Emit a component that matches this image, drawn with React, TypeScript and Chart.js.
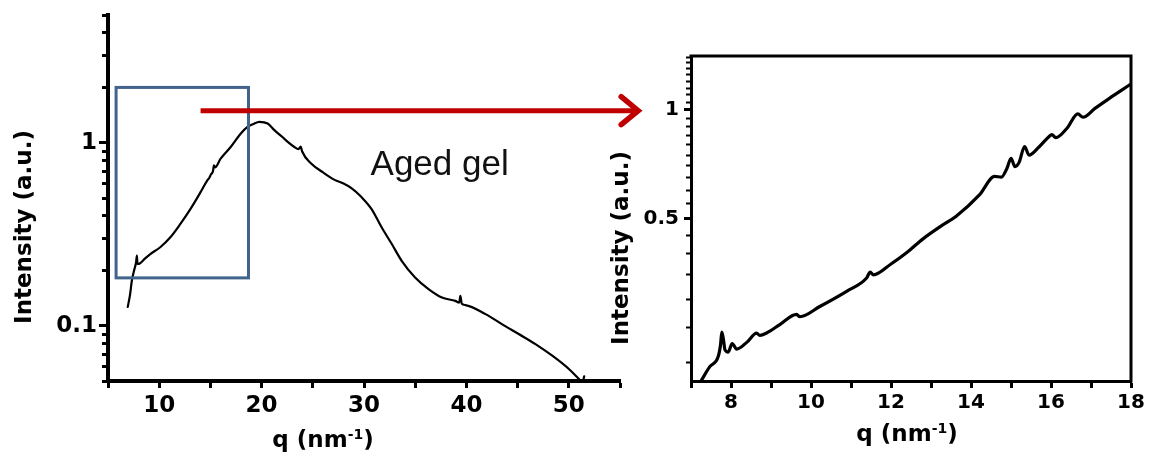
import React, { useEffect, useRef } from 'react';
import { Chart, registerables } from 'chart.js';

Chart.register(...registerables);

const W = 1149;
const H = 456;

// ---------- Data: main (left) panel ----------
const leftQ = [
  6.93, 7.16, 7.33, 7.59, 7.74, 7.82, 7.88, 8.14, 8.6, 9.13, 10.1, 11.09, 12.07, 13.06,
  14.04, 14.7, 14.9, 15.05, 15.25, 15.35, 15.45, 16.0, 16.98, 17.97, 18.62, 19.2, 19.77,
  20.59, 21.25, 22.0, 22.55, 23.2, 23.6, 23.82, 23.95, 24.84, 26.0, 27.13, 28.0, 28.77,
  29.75, 30.74, 31.72, 32.7, 33.68, 34.99, 36.3, 37.61, 38.92, 39.3, 39.41, 39.55, 39.9,
  41.87, 43.5, 45.15, 46.78, 48.42, 50.06, 51.04, 51.35, 51.5,
];
const leftI = [
  0.127, 0.149, 0.177, 0.205, 0.222, 0.242, 0.218, 0.22, 0.233, 0.247, 0.269, 0.305, 0.361,
  0.436, 0.538, 0.624, 0.645, 0.672, 0.7, 0.755, 0.735, 0.821, 0.95, 1.126, 1.224, 1.27,
  1.304, 1.277, 1.174, 1.08, 1.013, 0.95, 0.925, 0.955, 0.9, 0.771, 0.69, 0.628, 0.6, 0.566,
  0.506, 0.435, 0.346, 0.281, 0.227, 0.184, 0.159, 0.143, 0.137, 0.134, 0.146, 0.132, 0.13,
  0.116, 0.102, 0.09, 0.0793, 0.0685, 0.0578, 0.051, 0.0492, 0.053,
];

// ---------- Data: zoomed (right) panel ----------
const rightQ = [
  7.25, 7.47, 7.68, 7.74, 7.77, 7.81, 7.85, 7.93, 8.03, 8.14, 8.4, 8.64, 8.72, 8.9, 9.22,
  9.64, 9.72, 10.22, 10.89, 11.39, 11.48, 11.56, 12.0, 12.38, 12.8, 13.26, 13.63, 14.21,
  14.59, 14.76, 14.9, 15.0, 15.1, 15.2, 15.34, 15.45, 15.7, 15.96, 16.02, 16.12, 16.4,
  16.67, 16.8, 17.1, 17.46, 17.96, 18.0,
];
const rightI = [
  0.178, 0.195, 0.208, 0.225, 0.243, 0.232, 0.217, 0.214, 0.226, 0.218, 0.228, 0.2415,
  0.238, 0.242, 0.255, 0.272, 0.268, 0.286, 0.315, 0.343, 0.356, 0.35, 0.375, 0.402, 0.44,
  0.478, 0.508, 0.582, 0.655, 0.652, 0.69, 0.735, 0.697, 0.715, 0.792, 0.75, 0.79, 0.846,
  0.855, 0.838, 0.89, 0.975, 0.955, 1.01, 1.077, 1.172, 1.18,
];

// ---------- Axis ranges & ticks ----------
const leftXRange = [5, 55];
const leftYRange = [0.05, 5];
const leftXTicks = [5, 10, 15, 20, 25, 30, 35, 40, 45, 50, 55];
const leftXLabeled = [10, 20, 30, 40, 50];
const leftYTicks = [0.05, 0.06, 0.07, 0.08, 0.09, 0.1, 0.2, 0.3, 0.4, 0.5, 0.6, 0.7, 0.8, 0.9, 1, 2, 3, 4, 5];
const leftYLabeled = [0.1, 1];

const rightXRange = [7, 18];
const rightYRange = [0.178, 1.41];
const rightXTicks = [7, 8, 9, 10, 11, 12, 13, 14, 15, 16, 17, 18];
const rightXLabeled = [8, 10, 12, 14, 16, 18];
const rightYTicks = [
  0.2, 0.25, 0.3, 0.35, 0.4, 0.45, 0.5, 0.55, 0.6, 0.65, 0.7, 0.75, 0.8, 0.85, 0.9, 0.95,
  1, 1.05, 1.1, 1.15, 1.2, 1.25, 1.3, 1.35, 1.4,
];
const rightYLabeled = [0.5, 1];

// ---------- Annotations (data units of the left panel) ----------
const zoomBoxQ = [5.79, 18.72];
const zoomBoxI = [0.183, 2.01];
const arrowQ = [14.04, 56.97];
const arrowI = 1.5;
const labelText = 'Aged gel';
const labelQ = 30.64;
const labelI = 0.665;

const xTitle = ['q (nm', '-1', ')'];
const yTitle = 'Intensity (a.u.)';

const BOLD = "'DejaVu Sans', 'Liberation Sans', sans-serif";
const PLAIN = "'Liberation Sans', Arial, sans-serif";

function drawXTitle(ctx: CanvasRenderingContext2D, cx: number, baseY: number, size: number, supSize: number, raise: number) {
  const base = `bold ${size}px ${BOLD}`;
  const sup = `bold ${supSize}px ${BOLD}`;
  ctx.save();
  ctx.fillStyle = '#000';
  ctx.textAlign = 'left';
  ctx.textBaseline = 'alphabetic';
  ctx.font = base;
  const w1 = ctx.measureText(xTitle[0]).width;
  const w3 = ctx.measureText(xTitle[2]).width;
  ctx.font = sup;
  const w2 = ctx.measureText(xTitle[1]).width;
  let x = cx - (w1 + w2 + w3) / 2;
  ctx.font = base;
  ctx.fillText(xTitle[0], x, baseY);
  x += w1;
  ctx.font = sup;
  ctx.fillText(xTitle[1], x, baseY - raise);
  x += w2;
  ctx.font = base;
  ctx.fillText(xTitle[2], x, baseY);
  ctx.restore();
}

function drawYTitle(ctx: CanvasRenderingContext2D, cx: number, cy: number, size: number) {
  ctx.save();
  ctx.fillStyle = '#000';
  ctx.translate(cx, cy);
  ctx.rotate(-Math.PI / 2);
  ctx.textAlign = 'center';
  ctx.textBaseline = 'middle';
  ctx.font = `bold ${size}px ${BOLD}`;
  ctx.fillText(yTitle, 0, 0);
  ctx.restore();
}

const isIn = (arr: number[], v: number) => arr.some((a) => Math.abs(a - v) < 1e-9);

function makeAxis(opts: {
  type: 'linear' | 'logarithmic';
  range: number[];
  ticks: number[];
  labeled: number[];
  isX: boolean;
  size: number;
  fontSize: number;
  tickLength: number;
  padding: number;
  borderWidth: number;
  minorDash: number[];
  majorWidth: number;
  minorWidth: number;
}) {
  return {
    type: opts.type,
    position: opts.isX ? 'bottom' : 'left',
    min: opts.range[0],
    max: opts.range[1],
    afterBuildTicks: (ax: any) => {
      ax.ticks = opts.ticks.map((v) => ({ value: v }));
    },
    afterFit: (ax: any) => {
      if (opts.isX) {
        ax.height = opts.size;
        ax.paddingLeft = 0;
        ax.paddingRight = 0;
      } else {
        ax.width = opts.size;
        ax.paddingTop = 0;
        ax.paddingBottom = 0;
      }
    },
    border: { display: true, color: '#000', width: opts.borderWidth },
    grid: {
      drawOnChartArea: false,
      drawTicks: true,
      tickLength: opts.tickLength,
      tickColor: '#000',
      tickWidth: (c: any) => (c.tick && isIn(opts.labeled, c.tick.value) ? opts.majorWidth : opts.minorWidth),
      tickBorderDash: (c: any) => (c.tick && isIn(opts.labeled, c.tick.value) ? [] : opts.minorDash),
    },
    ticks: {
      autoSkip: false,
      maxRotation: 0,
      minRotation: 0,
      padding: opts.padding,
      color: '#000',
      font: { family: BOLD, size: opts.fontSize, weight: 'bold' },
      callback: (v: any) => (isIn(opts.labeled, Number(v)) ? String(v) : ''),
    },
  };
}

export default function App() {
  const leftRef = useRef<HTMLCanvasElement>(null);
  const rightRef = useRef<HTMLCanvasElement>(null);

  useEffect(() => {
    const leftPlugin = {
      id: 'leftDecor',
      afterDraw(chart: any) {
        const ctx: CanvasRenderingContext2D = chart.ctx;
        const xs = chart.scales.x;
        const ys = chart.scales.y;
        // zoom box
        ctx.save();
        const bx1 = xs.getPixelForValue(zoomBoxQ[0]);
        const bx2 = xs.getPixelForValue(zoomBoxQ[1]);
        const by1 = ys.getPixelForValue(zoomBoxI[1]);
        const by2 = ys.getPixelForValue(zoomBoxI[0]);
        ctx.strokeStyle = '#41638C';
        ctx.lineWidth = 3;
        ctx.strokeRect(bx1, by1, bx2 - bx1, by2 - by1);
        // arrow
        const ax1 = xs.getPixelForValue(arrowQ[0]);
        const ax2 = xs.getPixelForValue(arrowQ[1]);
        const ay = ys.getPixelForValue(arrowI);
        ctx.strokeStyle = '#C00000';
        ctx.lineWidth = 5;
        ctx.lineCap = 'butt';
        ctx.beginPath();
        ctx.moveTo(ax1, ay);
        ctx.lineTo(ax2 - 3, ay);
        ctx.stroke();
        ctx.lineJoin = 'miter';
        ctx.lineCap = 'round';
        ctx.lineWidth = 5.5;
        ctx.beginPath();
        ctx.moveTo(ax2 - 19, ay - 14);
        ctx.lineTo(ax2 - 2, ay);
        ctx.lineTo(ax2 - 19, ay + 14);
        ctx.stroke();
        // label
        ctx.fillStyle = '#111';
        ctx.font = `35px ${PLAIN}`;
        ctx.textAlign = 'left';
        ctx.textBaseline = 'alphabetic';
        ctx.fillText(labelText, xs.getPixelForValue(labelQ), ys.getPixelForValue(labelI));
        ctx.restore();
        // axis titles
        drawYTitle(ctx, 25, 227, 23);
        drawXTitle(ctx, 323, 447, 23, 14, 8);
      },
    };

    const rightPlugin = {
      id: 'rightDecor',
      afterDraw(chart: any) {
        const ctx: CanvasRenderingContext2D = chart.ctx;
        const a = chart.chartArea;
        ctx.save();
        ctx.strokeStyle = '#000';
        ctx.lineWidth = 3;
        ctx.lineCap = 'square';
        ctx.beginPath();
        ctx.moveTo(a.left, a.top);
        ctx.lineTo(a.right, a.top);
        ctx.lineTo(a.right, a.bottom);
        ctx.stroke();
        ctx.restore();
        drawYTitle(ctx, 622, 248, 23);
        drawXTitle(ctx, 907, 441, 23, 14, 8);
      },
    };

    const leftChart = new Chart(leftRef.current as HTMLCanvasElement, {
      type: 'scatter',
      data: {
        datasets: [
          {
            data: leftQ.map((q, i) => ({ x: q, y: leftI[i] })),
            showLine: true,
            borderColor: '#000',
            borderWidth: 2.2,
            pointRadius: 0,
            cubicInterpolationMode: 'monotone',
            borderJoinStyle: 'round',
            borderCapStyle: 'round',
          } as any,
        ],
      },
      options: {
        animation: false,
        responsive: false,
        maintainAspectRatio: false,
        events: [],
        layout: { padding: { left: 0, top: 15, right: W - 620, bottom: 0 } },
        plugins: { legend: { display: false }, tooltip: { enabled: false }, title: { display: false } },
        scales: {
          x: makeAxis({
            type: 'linear', range: leftXRange, ticks: leftXTicks, labeled: leftXLabeled, isX: true,
            size: H - 381, fontSize: 23, tickLength: 7, padding: 4, borderWidth: 4,
            minorDash: [5, 100], majorWidth: 3, minorWidth: 3,
          }),
          y: makeAxis({
            type: 'logarithmic', range: leftYRange, ticks: leftYTicks, labeled: leftYLabeled, isX: false,
            size: 108, fontSize: 23, tickLength: 9, padding: 2, borderWidth: 4,
            minorDash: [0, 3, 20, 100], majorWidth: 3, minorWidth: 3,
          }),
        } as any,
      },
      plugins: [leftPlugin],
    } as any);

    const rightChart = new Chart(rightRef.current as HTMLCanvasElement, {
      type: 'scatter',
      data: {
        datasets: [
          {
            data: rightQ.map((q, i) => ({ x: q, y: rightI[i] })),
            showLine: true,
            borderColor: '#000',
            borderWidth: 3.2,
            pointRadius: 0,
            cubicInterpolationMode: 'monotone',
            borderJoinStyle: 'round',
            borderCapStyle: 'round',
          } as any,
        ],
      },
      options: {
        animation: false,
        responsive: false,
        maintainAspectRatio: false,
        events: [],
        layout: { padding: { left: 691 - 60, top: 56, right: W - 1131, bottom: 0 } },
        plugins: { legend: { display: false }, tooltip: { enabled: false }, title: { display: false } },
        scales: {
          x: makeAxis({
            type: 'linear', range: rightXRange, ticks: rightXTicks, labeled: rightXLabeled, isX: true,
            size: H - 381, fontSize: 20, tickLength: 7, padding: 3, borderWidth: 3,
            minorDash: [5, 100], majorWidth: 3, minorWidth: 3,
          }),
          y: makeAxis({
            type: 'logarithmic', range: rightYRange, ticks: rightYTicks, labeled: rightYLabeled, isX: false,
            size: 60, fontSize: 20, tickLength: 7, padding: 5, borderWidth: 3,
            minorDash: [0, 2, 20, 100], majorWidth: 3, minorWidth: 2,
          }),
        } as any,
      },
      plugins: [rightPlugin],
    } as any);

    return () => {
      leftChart.destroy();
      rightChart.destroy();
    };
  }, []);

  return (
    <div style={{ position: 'absolute', left: 0, top: 0, width: W, height: H, background: '#fff' }}>
      <canvas ref={leftRef} width={W} height={H} style={{ position: 'absolute', left: 0, top: 0 }} />
      <canvas ref={rightRef} width={W} height={H} style={{ position: 'absolute', left: 0, top: 0 }} />
    </div>
  );
}
